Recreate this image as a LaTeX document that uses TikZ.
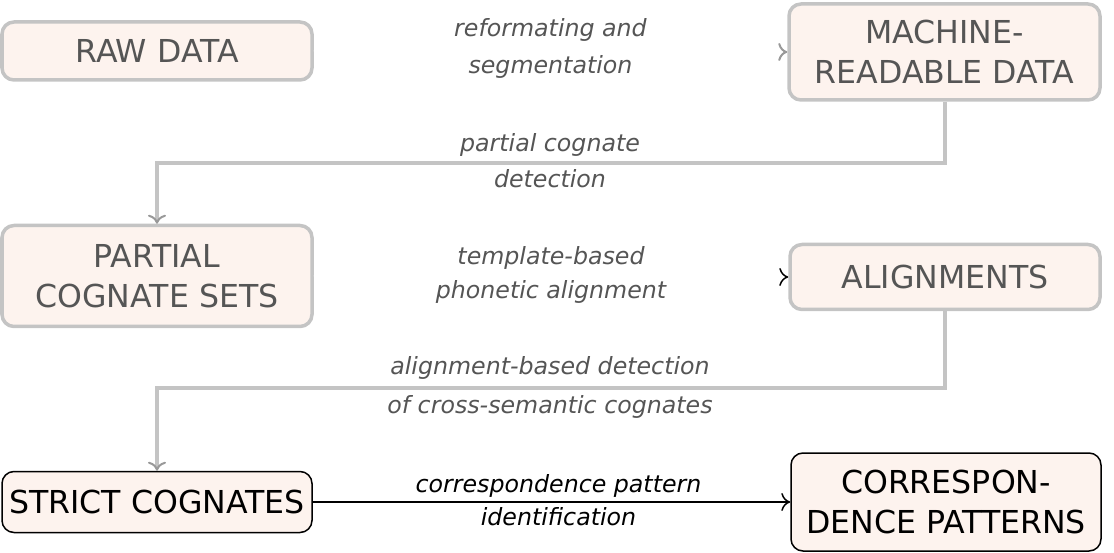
\documentclass[tikz,border=0pt]{standalone}
\usepackage{fontspec}
\setmainfont{DejaVu Sans}
\usetikzlibrary{arrows.meta}
\definecolor{boxfill}{HTML}{FDF3EE}
\definecolor{fadeline}{HTML}{C4C4C4}
\definecolor{fadetext}{HTML}{555555}
\tikzset{
  stage/.style={draw=black, line width=1.5pt, fill=boxfill, rounded corners=12pt,
    align=center, inner sep=0pt, font=\fontsize{31.6}{40}\selectfont},
  faded/.style={draw=fadeline, line width=3.5pt, text=fadetext},
  lab/.style={font=\fontsize{23.7}{32}\selectfont\itshape, inner sep=0pt},
  fadelab/.style={lab, text=fadetext},
  conn/.style={line width=1.5pt, -{Computer Modern Rightarrow[length=9pt,width=18pt]}},
  fadeconn/.style={line width=4pt, draw=fadeline, -{Computer Modern Rightarrow[length=9pt,width=18pt,line width=2pt,color=fadetext!60]}},
}
\begin{document}
\begin{tikzpicture}[x=1pt,y=-1pt]
\useasboundingbox (0,0) rectangle (1114,553);
% boxes
\node[stage, faded, minimum width=310pt, minimum height=58pt] (raw) at (157,51) {RAW DATA};
\node[stage, faded, minimum width=311pt, minimum height=96pt] (machine) at (944.5,52) {MACHINE-\\READABLE DATA};
\node[stage, faded, minimum width=310pt, minimum height=101pt] (partial) at (157,276) {PARTIAL\\COGNATE SETS};
\node[stage, faded, minimum width=310pt, minimum height=65pt] (align) at (945,277) {ALIGNMENTS};
\node[stage, minimum width=310pt, minimum height=61pt] (strict) at (157,502) {STRICT COGNATES};
\node[stage, minimum width=310pt, minimum height=98pt] (corr) at (946,502) {CORRESPON-\\DENCE PATTERNS};
% bend points
\coordinate (k1) at (550,163);
\coordinate (k2) at (550,388);
% connectors
\draw[line width=1.5pt, draw=white, -{Computer Modern Rightarrow[length=9pt,width=18pt,line width=2pt,color=fadetext!60]}] (raw.east) -- (machine.west)
  node[midway, fadelab, yshift=22pt] (l1a) {reformating and}
  node[midway, fadelab, yshift=-15pt] (l1b) {segmentation};
\draw[fadeconn] (machine.south) |- (k1)
  node[fadelab, yshift=18pt] (l2a) {partial cognate}
  node[fadelab, yshift=-16pt] (l2b) {detection}
  -| (partial.north);
\draw[line width=1.5pt, draw=white, -{Computer Modern Rightarrow[length=9pt,width=18pt,color=black]}] (partial.east) -- (align.west)
  node[midway, fadelab, yshift=19pt] (l3a) {template-based}
  node[midway, fadelab, yshift=-15pt] (l3b) {phonetic alignment};
\draw[fadeconn] (align.south) |- (k2)
  node[fadelab, yshift=20pt] (l4a) {alignment-based detection}
  node[fadelab, yshift=-19pt] (l4b) {of cross-semantic cognates}
  -| (strict.north);
\draw[conn] (strict.east) -- (corr.west)
  node[midway, lab, xshift=7pt, yshift=16pt] (l5a) {correspondence pattern}
  node[midway, lab, xshift=7pt, yshift=-15pt] (l5b) {identification};
\end{tikzpicture}
\end{document}
